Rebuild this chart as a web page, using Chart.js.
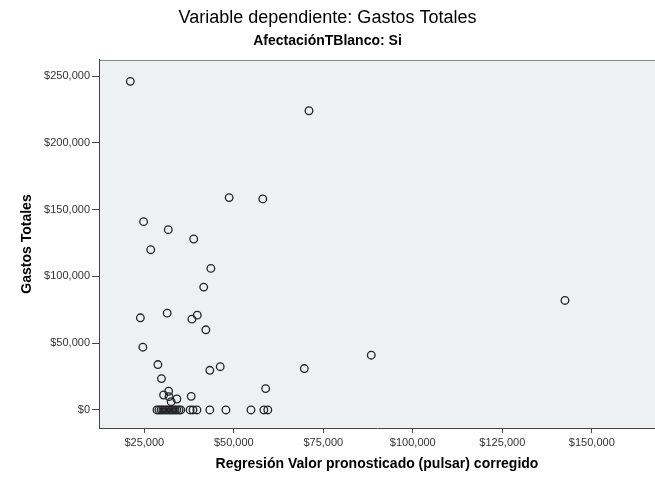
<!DOCTYPE html>
<html>
<head>
<meta charset="utf-8">
<script src="https://cdn.jsdelivr.net/npm/chart.js@4/dist/chart.umd.min.js"></script>
<style>
  html, body { margin: 0; padding: 0; background: #fff; }
  #wrap { width: 655px; height: 479px; }
</style>
</head>
<body>
<div id="wrap"><canvas id="scatter_chart" width="655" height="479"></canvas></div>
<script>
// Regresion valor pronosticado (x) vs Gastos Totales (y)
var predicted = [
  21100, 71000, 48700, 58100, 24800, 31700, 38800, 26800, 43600, 41600,
  23900, 31400, 39800, 38300, 42200, 24600, 142500, 88400, 28800, 29800,
  43300, 46200, 69700, 58900, 31800, 30400, 31900, 34100, 38100, 32500,
  28550, 29100, 29700, 30200, 30800, 31300, 31900, 32500, 33000, 33600,
  34100, 34700, 35200, 37800, 38600, 39700, 43300, 47800, 54800, 58400, 59500
];
var gastos = [
  246000, 224000, 159000, 158000, 141000, 135000, 128000, 120000, 106000, 92000,
  69000, 72500, 71000, 68000, 60000, 47000, 82000, 41000, 34000, 23500,
  29700, 32400, 31000, 16000, 14000, 11200, 10000, 8200, 10200, 6200,
  0, 0, 0, 0, 0, 0, 0, 0, 0, 0,
  0, 0, 0, 0, 0, 0, 0, 0, 0, 0, 0
];
var xTicks = [25000, 50000, 75000, 100000, 125000, 150000];
var yTicks = [0, 50000, 100000, 150000, 200000, 250000];

var points = predicted.map(function(x, i) { return {x: x, y: gastos[i]}; });

function money(v) {
  return '$' + Number(v).toLocaleString('en-US');
}

Chart.defaults.font.family = '"Liberation Sans", Arial, sans-serif';
Chart.defaults.color = '#333';

var plotBg = {
  id: 'plotBg',
  beforeDraw: function(chart) {
    var a = chart.chartArea, c = chart.ctx;
    c.save();
    c.fillStyle = '#eef1f2';
    c.fillRect(a.left, a.top, a.right - a.left, a.bottom - a.top);
    c.strokeStyle = '#8a8a8a';
    c.lineWidth = 1;
    c.beginPath();
    c.moveTo(a.left, a.top + 0.5);
    c.lineTo(a.right, a.top + 0.5);
    c.stroke();
    c.restore();
  }
};

var ctx = document.getElementById('scatter_chart');
new Chart(ctx, {
  type: 'scatter',
  data: {
    datasets: [{
      label: 'Gastos Totales',
      data: points,
      pointRadius: 3.8,
      pointHoverRadius: 3.8,
      borderWidth: 1.3,
      borderColor: '#222',
      backgroundColor: 'rgba(0,0,0,0)'
    }]
  },
  options: {
    responsive: false,
    animation: false,
    devicePixelRatio: 1,
    layout: { padding: 0, autoPadding: false },
    plugins: {
      legend: { display: false },
      tooltip: { enabled: false },
      title: {
        display: true,
        text: 'Variable dependiente: Gastos Totales',
        color: '#000',
        font: { size: 18, weight: 'normal' },
        padding: { top: 7, bottom: 4 }
      },
      subtitle: {
        display: true,
        text: 'AfectaciónTBlanco: Si',
        color: '#000',
        font: { size: 14, weight: 'bold' },
        padding: { top: 0, bottom: 10.6 }
      }
    },
    scales: {
      x: {
        type: 'linear',
        min: 12350,
        max: 167650,
        afterBuildTicks: function(scale) {
          scale.ticks = xTicks.map(function(v) { return {value: v}; });
        },
        afterFit: function(scale) { scale.height = 51; },
        grid: { drawOnChartArea: false, drawTicks: true, tickLength: 5, tickColor: '#444' },
        border: { display: true, color: '#444', width: 1 },
        ticks: { padding: 3, font: { size: 11 }, color: '#333', maxRotation: 0,
                 callback: function(v) { return money(v); } },
        title: {
          display: true,
          text: 'Regresión Valor pronosticado (pulsar) corregido',
          color: '#000',
          font: { size: 14, weight: 'bold' },
          padding: { top: 0, bottom: 6 }
        }
      },
      y: {
        type: 'linear',
        min: -13500,
        max: 262000,
        afterBuildTicks: function(scale) {
          scale.ticks = yTicks.map(function(v) { return {value: v}; });
        },
        afterFit: function(scale) { scale.width = 99; },
        grid: { drawOnChartArea: false, drawTicks: true, tickLength: 7, tickColor: '#444' },
        border: { display: true, color: '#444', width: 1 },
        ticks: { padding: 2, font: { size: 11 }, color: '#333',
                 callback: function(v) { return money(v); } },
        title: {
          display: true,
          text: 'Gastos Totales',
          color: '#000',
          font: { size: 14, weight: 'bold' },
          padding: { top: 19, bottom: 0 }
        }
      }
    }
  },
  plugins: [plotBg]
});
</script>
</body>
</html>
